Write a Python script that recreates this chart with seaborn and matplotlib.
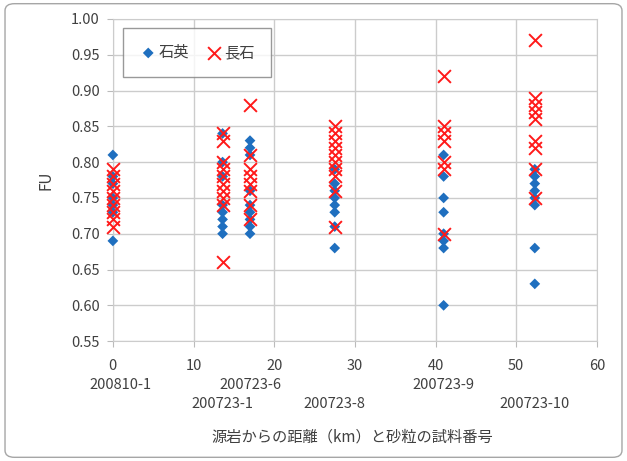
import matplotlib
matplotlib.use("Agg")
import matplotlib.pyplot as plt
from matplotlib.patches import FancyBboxPatch
import seaborn as sns
import pandas as pd

# distance from source rock (km) of each sample
dist = [0, 13.6, 17.0, 27.5, 41.0, 52.3]
samples = ["200810-1", "200723-1", "200723-6", "200723-8", "200723-9", "200723-10"]
sample_row = [0, 1, 0, 1, 0, 1]

# FU values, one list per sample
quartz = [
    [0.81, 0.78, 0.77, 0.75, 0.74, 0.73, 0.69],
    [0.84, 0.80, 0.78, 0.74, 0.73, 0.72, 0.71, 0.70],
    [0.83, 0.82, 0.81, 0.76, 0.74, 0.73, 0.72, 0.71, 0.70],
    [0.79, 0.77, 0.76, 0.75, 0.74, 0.73, 0.71, 0.68],
    [0.81, 0.78, 0.75, 0.73, 0.70, 0.69, 0.68, 0.60],
    [0.79, 0.78, 0.77, 0.76, 0.75, 0.74, 0.68, 0.63],
]
feldspar = [
    [0.79, 0.78, 0.77, 0.76, 0.75, 0.74, 0.73, 0.72, 0.71],
    [0.84, 0.83, 0.80, 0.79, 0.78, 0.77, 0.76, 0.75, 0.74, 0.66],
    [0.88, 0.81, 0.79, 0.78, 0.77, 0.76, 0.74, 0.72],
    [0.85, 0.84, 0.83, 0.82, 0.81, 0.80, 0.79, 0.78, 0.76, 0.71],
    [0.92, 0.85, 0.84, 0.83, 0.80, 0.79, 0.70],
    [0.97, 0.89, 0.88, 0.87, 0.86, 0.83, 0.82, 0.79, 0.75],
]

rows = []
for d, q, f in zip(dist, quartz, feldspar):
    rows += [(d, v, "石英") for v in q]
    rows += [(d, v, "長石") for v in f]
df = pd.DataFrame(rows, columns=["dist", "FU", "mineral"])

sns.set_style("white")
plt.rcParams["font.family"] = ["Noto Sans CJK JP", "DejaVu Sans"]
txt = "#404040"

fig = plt.figure(figsize=(6.27, 4.61), dpi=100)
ax = fig.add_axes([0.180, 0.260, 0.772, 0.699])

sns.scatterplot(data=df[df.mineral == "石英"], x="dist", y="FU", marker="D",
                color="#1f6fbf", s=30, edgecolor="none", label="石英",
                clip_on=False, zorder=3, ax=ax)
sns.scatterplot(data=df[df.mineral == "長石"], x="dist", y="FU", marker="x",
                color="#ff1a1a", s=85, linewidth=1.4, label="長石",
                clip_on=False, zorder=4, ax=ax)

ax.set_xlim(0, 60)
ax.set_ylim(0.55, 1.00)
ax.set_xticks(range(0, 61, 10))
ax.set_yticks([0.55 + 0.05 * i for i in range(10)])
ax.set_yticklabels([f"{0.55 + 0.05 * i:.2f}" for i in range(10)])
ax.grid(True, color="#cccccc", linewidth=1)
for s in ax.spines.values():
    s.set_color("#cccccc")
ax.tick_params(axis="both", direction="out", length=4.5, color="#bbbbbb",
               labelsize=10.5, labelcolor=txt, left=True, bottom=True)
ax.tick_params(axis="y", pad=5)
ax.tick_params(axis="x", pad=8)
ax.set_xlabel("")
ax.set_ylabel("FU", fontsize=11, color=txt, labelpad=12)

# sample numbers below the distance ticks
for d, name, r in zip(dist, samples, sample_row):
    ax.text(max(d, 1.0), -0.135 - 0.06 * r, name, transform=ax.get_xaxis_transform(),
            ha="center", va="center", fontsize=10.5, color=txt)
fig.text(352 / 627, 1 - 437 / 461, "源岩からの距離（km）と砂粒の試料番号",
         ha="center", va="center", fontsize=11, color=txt)

leg = ax.legend(loc="upper left", bbox_to_anchor=(0.021, 0.972), ncol=2,
                fontsize=11, frameon=True, fancybox=False, borderpad=1.05,
                handletextpad=0.1, columnspacing=1.0, handlelength=1.2,
                borderaxespad=0)
leg.get_frame().set_edgecolor("#808080")
leg.get_frame().set_linewidth(1)
for t in leg.get_texts():
    t.set_color(txt)

fig.patches.append(FancyBboxPatch((0.008, 0.008), 0.984, 0.984,
                                  boxstyle="round,pad=0,rounding_size=0.015",
                                  transform=fig.transFigure, fill=False,
                                  edgecolor="#a6a6a6", linewidth=1))

fig.savefig("out.png", dpi=100)
